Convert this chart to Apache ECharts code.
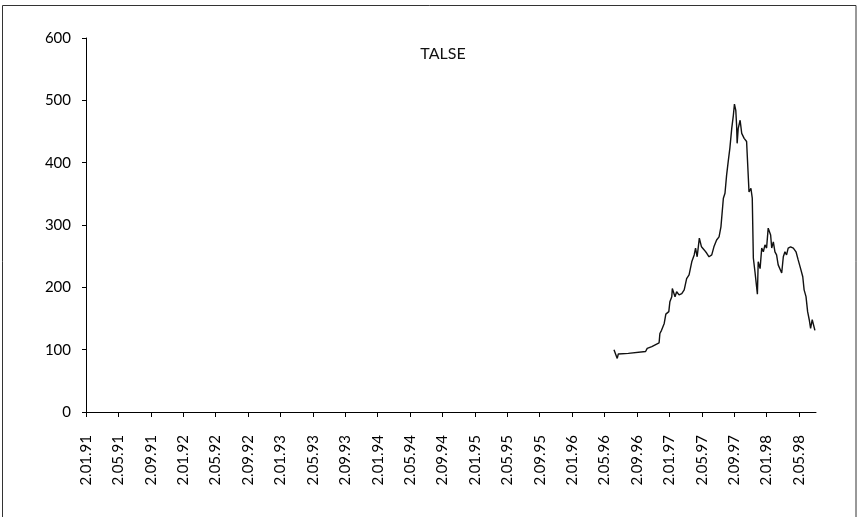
<!DOCTYPE html>
<html>
<head>
<meta charset="utf-8">
<script src="https://cdn.jsdelivr.net/npm/echarts@6/dist/echarts.min.js"></script>
<style>
html,body{margin:0;padding:0;background:#fff;}
#c{width:859px;height:517px;}
</style>
</head>
<body>
<div id="c"></div>
<script>
// ---- data ----
var tickLabels = ['2.01.91','2.05.91','2.09.91','2.01.92','2.05.92','2.09.92','2.01.93','2.05.93','2.09.93',
  '2.01.94','2.05.94','2.09.94','2.01.95','2.05.95','2.09.95','2.01.96','2.05.96','2.09.96',
  '2.01.97','2.05.97','2.09.97','2.01.98','2.05.98'];
var dates = [
 '1996-06-07','1996-06-19','1996-06-23','1996-07-30','1996-08-02','1996-10-04','1996-10-10','1996-10-27',
 '1996-11-15','1996-11-24','1996-11-27','1996-12-03','1996-12-13','1996-12-19','1996-12-30',
 '1997-01-04','1997-01-11','1997-01-13','1997-01-23','1997-01-29','1997-02-08','1997-02-18','1997-02-27',
 '1997-03-06','1997-03-15','1997-03-25','1997-04-04','1997-04-09','1997-04-15','1997-04-23','1997-05-01',
 '1997-05-11','1997-05-20','1997-05-29','1997-06-09','1997-06-17','1997-06-27','1997-07-06','1997-07-13',
 '1997-07-22','1997-07-28','1997-08-04','1997-08-10','1997-08-16','1997-08-23','1997-08-29','1997-09-03',
 '1997-09-08','1997-09-11','1997-09-13','1997-09-17','1997-09-24','1997-09-30','1997-10-09','1997-10-18',
 '1997-10-24','1997-10-27','1997-11-04','1997-11-09','1997-11-13','1997-11-19','1997-11-28','1997-12-01',
 '1997-12-08','1997-12-14','1997-12-20','1997-12-26','1998-01-02','1998-01-08','1998-01-12','1998-01-17',
 '1998-01-21','1998-01-27','1998-02-03','1998-02-09','1998-02-15','1998-02-22','1998-02-28','1998-03-04',
 '1998-03-10','1998-03-16','1998-03-22','1998-03-31','1998-04-11','1998-04-21','1998-04-29','1998-05-08',
 '1998-05-16','1998-05-21','1998-05-28','1998-06-04','1998-06-10','1998-06-15','1998-06-21','1998-06-27',
 '1998-07-01'];
var values = [
 100,86,93,94,96,97,102,105,
 109,111,126,131,142,157,161,
 177,185,198,185,193,188,190,196,
 214,220,241,252,263,249,279,265,
 260,255,249,252,265,276,281,297,
 343,351,380,402,423,455,476,494,
 484,460,431,455,468,447,439,434,
 431,353,359,343,247,225,189,241,
 230,263,257,268,263,295,297,284,
 263,273,257,252,236,233,223,249,
 257,252,263,265,263,257,244,230,
 217,196,185,161,148,134,148,149,
 131];
var yTicks = [0,100,200,300,400,500,600];
var titleText = 'TALSE';

// month index since 2 Jan 1991
function dateToMonth(y, m, d){ return (y-1991)*12 + (m-1) + (d-2)/30; }
function isoToMonth(s){ var p=s.split('-'); return dateToMonth(+p[0], +p[1], +p[2]); }
function labelToMonth(s){ var p=s.split('.'); return dateToMonth(1900+(+p[2]), +p[1], +p[0]); }

var tickPos = tickLabels.map(labelToMonth);
var labelByPos = {};
tickPos.forEach(function(p,i){ labelByPos[p.toFixed(3)] = tickLabels[i]; });
var seriesData = dates.map(function(d,i){ return [isoToMonth(d), values[i]]; });

var FONT = 'Lato';
var chart = echarts.init(document.getElementById('c'), null, {renderer:'canvas'});
chart.setOption({
  backgroundColor:'#fff',
  animation:false,
  title:{
    text:titleText, left:438, top:41, textAlign:'center',
    textStyle:{fontFamily:FONT, fontSize:16, fontWeight:'normal', color:'#111'}
  },
  grid:{left:86, right:43, top:38, bottom:105, containLabel:false},
  xAxis:{
    type:'value', min:0, max:90.1,
    splitLine:{show:false},
    axisLine:{lineStyle:{color:'#000', width:1}},
    axisTick:{show:true, length:5, lineStyle:{color:'#000'}, customValues:tickPos},
    axisLabel:{
      customValues:tickPos, rotate:90, margin:23,
      fontFamily:FONT, fontSize:15, color:'#000',
      formatter:function(v){ return labelByPos[v.toFixed(3)] || ''; }
    }
  },
  yAxis:{
    type:'value', min:yTicks[0], max:yTicks[yTicks.length-1], interval:100,
    splitLine:{show:false},
    axisLine:{show:true, lineStyle:{color:'#000', width:1}},
    axisTick:{show:true, length:4, lineStyle:{color:'#000'}},
    axisLabel:{margin:15, fontFamily:FONT, fontSize:15, color:'#000'}
  },
  series:[{
    type:'line', data:seriesData, showSymbol:false, symbol:'none',
    lineStyle:{color:'#111', width:1.4}
  }],
  graphic:[{
    type:'rect', silent:true,
    shape:{x:2.5, y:5.5, width:853.5, height:520},
    style:{fill:'none', stroke:'#333', lineWidth:1}
  }]
});
</script>
</body>
</html>
